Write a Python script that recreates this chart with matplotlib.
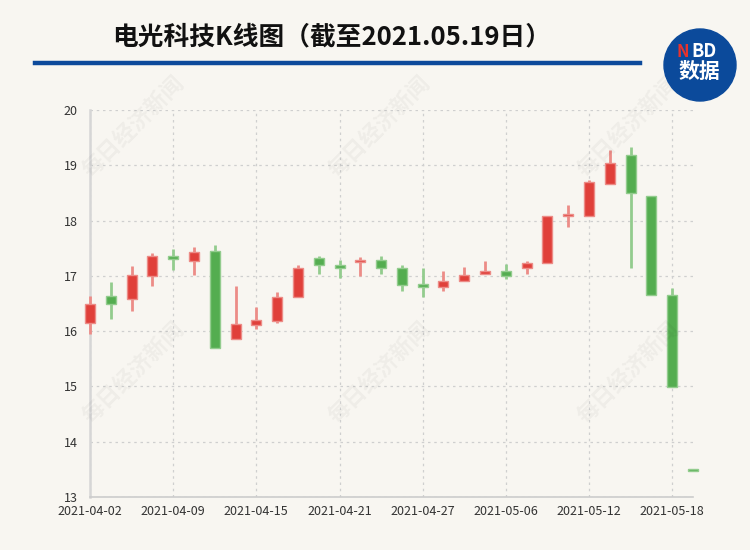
import matplotlib
matplotlib.use("Agg")
import matplotlib.pyplot as plt
from matplotlib.patches import Ellipse
from matplotlib.lines import Line2D

plt.rcParams['font.family'] = ['Noto Sans CJK SC', 'DejaVu Sans']

dates = ["2021-04-02", "2021-04-06", "2021-04-07", "2021-04-08", "2021-04-09",
         "2021-04-12", "2021-04-13", "2021-04-14", "2021-04-15", "2021-04-16",
         "2021-04-19", "2021-04-20", "2021-04-21", "2021-04-22", "2021-04-23",
         "2021-04-26", "2021-04-27", "2021-04-28", "2021-04-29", "2021-04-30",
         "2021-05-06", "2021-05-07", "2021-05-10", "2021-05-11", "2021-05-12",
         "2021-05-13", "2021-05-14", "2021-05-17", "2021-05-18", "2021-05-19"]
opens = [16.15, 16.64, 16.58, 17.00, 17.36, 17.26, 17.45, 15.85, 16.12, 16.18,
         16.61, 17.32, 17.20, 17.26, 17.28, 17.15, 16.85, 16.79, 16.91, 17.03,
         17.09, 17.14, 17.23, 18.09, 18.09, 18.67, 19.19, 18.45, 16.66, 13.49]
closes = [16.49, 16.49, 17.02, 17.36, 17.30, 17.44, 15.69, 16.13, 16.20, 16.61,
          17.14, 17.20, 17.15, 17.28, 17.15, 16.84, 16.79, 16.91, 17.01, 17.08,
          17.00, 17.23, 18.08, 18.11, 18.69, 19.04, 18.49, 16.65, 14.99, 13.49]
highs = [16.64, 16.88, 17.18, 17.41, 17.49, 17.53, 17.56, 16.81, 16.43, 16.71,
         17.20, 17.36, 17.29, 17.35, 17.36, 17.20, 17.15, 17.09, 17.16, 17.27,
         17.22, 17.27, 18.08, 18.29, 18.73, 19.27, 19.33, 18.45, 16.78, 13.49]
lows = [15.94, 16.22, 16.37, 16.81, 17.11, 17.02, 15.69, 15.85, 16.03, 16.15,
        16.61, 17.04, 16.97, 17.00, 17.04, 16.72, 16.62, 16.73, 16.91, 17.03,
        16.95, 17.03, 17.23, 17.89, 18.09, 18.67, 17.14, 16.65, 14.99, 13.49]
y_ticks = [13, 14, 15, 16, 17, 18, 19, 20]
tick_every = 4
title = "电光科技K线图（截至2021.05.19日）"

BG = '#f8f6f1'
RED, RED_L = '#e0403a', '#ec8c87'
GRN, GRN_L = '#54ad50', '#93cc8e'

W, H = 750, 550
fig = plt.figure(figsize=(W / 100, H / 100), dpi=100, facecolor=BG)
ax = fig.add_axes([90 / W, 1 - 497 / H, 603 / W, 387 / H])
ax.set_facecolor(BG)

# watermarks
for wx in (133, 379, 628):
    for wy in (127, 373):
        fig.text(wx / W, 1 - wy / H, "每日经济新闻", rotation=45, fontsize=16,
                 color='#000000', alpha=0.04, ha='center', va='center',
                 fontweight='bold', zorder=0)

xs = list(range(len(dates)))
for i in xs:
    o, c, h, l = opens[i], closes[i], highs[i], lows[i]
    up = c > o
    col, lcol = (RED, RED_L) if up else (GRN, GRN_L)
    ax.vlines(i, l, h, color=lcol, linewidth=2, zorder=4, clip_on=False)
    hgt = max(abs(c - o), 0.035)
    bot = min(o, c) if abs(c - o) >= 0.035 else (o + c) / 2 - 0.0175
    ax.bar(i, hgt, bottom=bot, width=0.48, color=col, edgecolor=lcol,
           linewidth=1, zorder=5, clip_on=False)

ax.set_xlim(0, len(dates) - 1)
ax.set_ylim(y_ticks[0], y_ticks[-1])
ax.set_yticks(y_ticks)
ax.set_xticks(xs[::tick_every])
ax.set_xticklabels(dates[::tick_every])
ax.tick_params(axis='both', length=0, labelsize=9, colors='#333333')
ax.tick_params(axis='y', pad=9)
ax.tick_params(axis='x', pad=6)
ax.grid(True, linestyle=(0, (2, 3)), color='#cfcfcf', linewidth=0.9, zorder=0)
ax.set_axisbelow(True)
for s in ('top', 'right'):
    ax.spines[s].set_visible(False)
ax.spines['left'].set_color('#d6d6d6')
ax.spines['left'].set_linewidth(1.8)
ax.spines['bottom'].set_color('#cccccc')
ax.spines['bottom'].set_linewidth(1.2)
for s in ax.spines.values():
    s.set_zorder(1)

# title and decoration
fig.text(332 / W, 1 - 37 / H, title, fontsize=18.5, fontweight='bold',
         color='#111111', ha='center', va='center')
fig.add_artist(Line2D([35 / W, 640 / W], [1 - 63 / H, 1 - 63 / H],
                      color='#0d4a9b', linewidth=3.2))
fig.add_artist(Ellipse((700 / W, 1 - 65 / H), 72 / W, 72 / H,
                       transform=fig.transFigure, color='#0b4a9b'))
fig.text(683 / W, 1 - 52 / H, "N", fontsize=12, fontweight='bold',
         color='#e8332d', ha='center', va='center', style='italic')
fig.text(704 / W, 1 - 52 / H, "BD", fontsize=13, fontweight='bold',
         color='white', ha='center', va='center')
fig.text(699 / W, 1 - 71 / H, "数据", fontsize=15, fontweight='bold',
         color='white', ha='center', va='center')

fig.savefig("out.png", dpi=100, facecolor=BG)
